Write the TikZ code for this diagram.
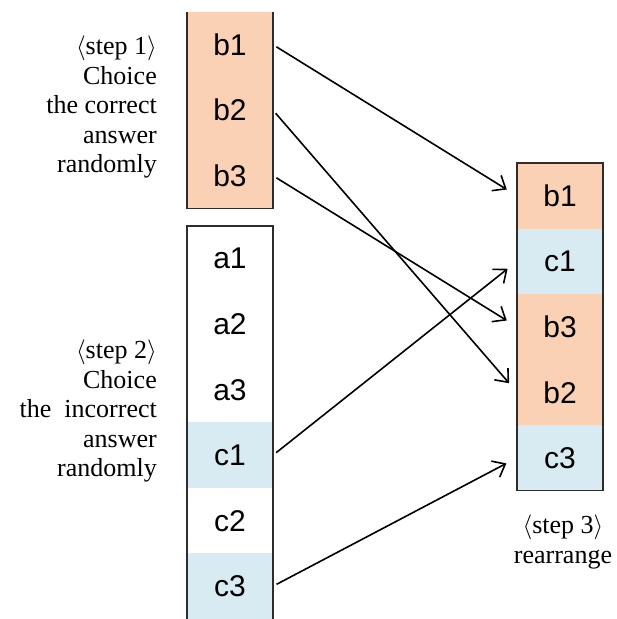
\documentclass[tikz,border=0pt]{standalone}
\usepackage{fontspec}
\setmainfont{Liberation Serif}
\setsansfont{Liberation Sans}
\usetikzlibrary{positioning, arrows.meta}
\definecolor{peach}{RGB}{250,209,180}
\definecolor{paleblue}{RGB}{217,235,242}
\definecolor{framegray}{RGB}{45,45,45}

\tikzset{
  cell/.style={minimum width=86pt, minimum height=65.5pt, inner sep=0pt, outer sep=0pt,
    font=\sffamily\fontsize{30}{30}\selectfont},
  steplabel/.style={font=\fontsize{26}{29.5}\selectfont, inner sep=0pt},
  frameline/.style={draw=framegray, line width=1.5pt},
  arr/.style={-{Straight Barb[length=11pt,width=18pt]}, line width=1.6pt,
    shorten <=4pt, shorten >=12pt}
}

\begin{document}
\begin{tikzpicture}[x=1pt, y=-1pt]
    \useasboundingbox (0,0) rectangle (617,619);

    % Define nodes: correct answers
    \node[cell, fill=peach] (b1) at (230,44.7) {b1};
    \node[cell, fill=peach, below=0pt of b1] (b2) {b2};
    \node[cell, fill=peach, below=0pt of b2] (b3) {b3};

    % Define nodes: incorrect answers
    \node[cell] (a1) at (230,258.7) {a1};
    \node[cell, below=0pt of a1] (a2) {a2};
    \node[cell, below=0pt of a2] (a3) {a3};
    \node[cell, fill=paleblue, below=0pt of a3] (c1) {c1};
    \node[cell, below=0pt of c1] (c2) {c2};
    \node[cell, fill=paleblue, below=0pt of c2] (c3) {c3};

    % Define nodes: rearranged
    \node[cell, fill=peach] (rb1) at (560,195.8) {b1};
    \node[cell, fill=paleblue, below=0pt of rb1] (rc1) {c1};
    \node[cell, fill=peach, below=0pt of rc1] (rb3) {b3};
    \node[cell, fill=peach, below=0pt of rb3] (rb2) {b2};
    \node[cell, fill=paleblue, below=0pt of rb2] (rc3) {c3};

    % Frames
    \draw[frameline] (b1.north west) -- (b3.south west) -- (b3.south east) -- (b1.north east);
    \draw[frameline] (c3.south west) -- (a1.north west) -- (a1.north east) -- (c3.south east);
    \draw[frameline] (rb1.north west) rectangle (rc3.south east);

    % Labels
    \node[steplabel, align=right, anchor=east] (step1) at (157,107)
        {$\langle$step 1$\rangle$\\Choice\\the correct\\answer\\randomly};
    \node[steplabel, align=right, anchor=east] (step2) at (157,411)
        {$\langle$step 2$\rangle$\\Choice\\the\ \ incorrect\\answer\\randomly};
    \node[steplabel, align=center] (step3) at (563,542)
        {$\langle$step 3$\rangle$\\rearrange};

    % Draw arrows
    \draw[arr] (b1.east) -- (rb1.west);
    \draw[arr] (b2.east) -- (rb2.west);
    \draw[arr] (b3.east) -- (rb3.west);
    \draw[arr] (c1.east) -- (rc1.west);
    \draw[arr] (c3.east) -- (rc3.west);
\end{tikzpicture}
\end{document}
